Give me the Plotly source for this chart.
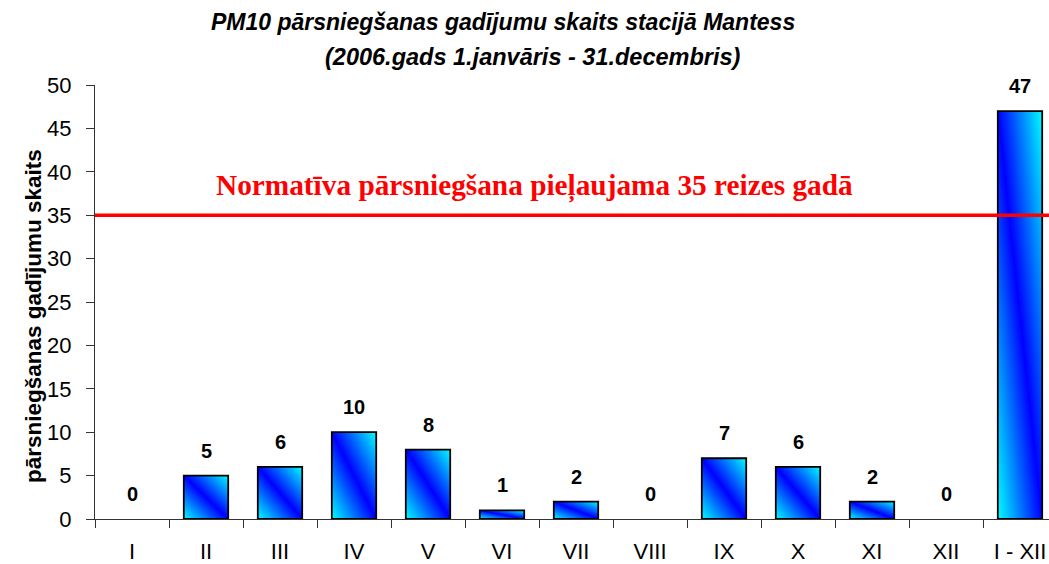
import base64
import plotly.graph_objects as go

categories = ["I", "II", "III", "IV", "V", "VI", "VII", "VIII", "IX", "X", "XI", "XII", "I - XII"]
values = [0, 5, 6, 10, 8, 1, 2, 0, 7, 6, 2, 0, 47]
limit_value = 35
limit_text = "Normatīva pārsniegšana pieļaujama 35 reizes gadā"
title_line1 = "PM10 pārsniegšanas gadījumu skaits stacijā Mantess"
title_line2 = "(2006.gads 1.janvāris - 31.decembris)"
y_title = "pārsniegšanas gadījumu skaits"

BAR_W = 0.6
L, T, B, W, H = 95, 85, 45, 1049, 564
PW, PH = W - L, H - T - B

svg = (
    '<svg xmlns="http://www.w3.org/2000/svg" width="100" height="100" viewBox="0 0 100 100" preserveAspectRatio="none">'
    '<defs><linearGradient id="g" x1="0" y1="1" x2="1" y2="0">'
    '<stop offset="0" stop-color="#00FFFF"/><stop offset="0.5" stop-color="#0000FF"/>'
    '<stop offset="1" stop-color="#00FFFF"/></linearGradient></defs>'
    '<rect x="0" y="0" width="100" height="100" fill="url(#g)"/></svg>'
)
src = "data:image/svg+xml;base64," + base64.b64encode(svg.encode()).decode()

fig = go.Figure()
fig.add_trace(go.Bar(
    x=categories, y=values, width=BAR_W,
    marker=dict(color="rgba(0,0,0,0)",
                line=dict(color="black", width=[1.8 if v > 0 else 0 for v in values])),
    hoverinfo="x+y",
))

images = []
for c, v in zip(categories, values):
    if v > 0:
        images.append(dict(source=src, xref="x", yref="y", x=c, y=v, sizex=BAR_W, sizey=v,
                           xanchor="center", yanchor="top", sizing="stretch", layer="below"))

annotations = []
for c, v in zip(categories, values):
    annotations.append(dict(x=c, y=v, xref="x", yref="y", text=f"<b>{v}</b>", showarrow=False,
                            yshift=25, font=dict(family="Liberation Sans, Arial", size=20, color="black")))
annotations.append(dict(x=(534 - L) / PW, y=limit_value, xref="paper", yref="y", text=f"<b>{limit_text}</b>",
                        showarrow=False, yshift=29, xanchor="center", yanchor="middle",
                        font=dict(family="Liberation Serif, Times New Roman", size=29.3, color="#FF0000")))
annotations.append(dict(x=(503 - L) / PW, y=1 + (T - 22) / PH, xref="paper", yref="paper",
                        text=f"<b><i>{title_line1}</i></b>", showarrow=False,
                        xanchor="center", yanchor="middle",
                        font=dict(family="Liberation Sans, Arial", size=23, color="black")))
annotations.append(dict(x=(533 - L) / PW, y=1 + (T - 57) / PH, xref="paper", yref="paper",
                        text=f"<b><i>{title_line2}</i></b>", showarrow=False,
                        xanchor="center", yanchor="middle",
                        font=dict(family="Liberation Sans, Arial", size=23.5, color="black")))
annotations.append(dict(x=(33 - L) / PW, y=(H - B - 316) / PH, xref="paper", yref="paper",
                        text=f"<b>{y_title}</b>", showarrow=False, textangle=-90,
                        xanchor="center", yanchor="middle",
                        font=dict(family="Liberation Sans, Arial", size=22.5, color="black")))

fig.update_layout(
    width=W, height=H,
    margin=dict(l=L, r=0, t=T, b=B, autoexpand=False),
    paper_bgcolor="white", plot_bgcolor="white",
    showlegend=False,
    images=images,
    annotations=annotations,
    shapes=[dict(type="line", xref="paper", yref="y", x0=0, x1=1, y0=limit_value, y1=limit_value,
                 line=dict(color="#FF0000", width=3.5))],
    font=dict(family="Liberation Sans, Arial", color="black"),
)

fig.update_xaxes(
    type="category", range=[-0.5, 12.5 - 8 / 74], automargin=False,
    showline=True, linecolor="#333333", linewidth=1,
    ticks="outside", ticklen=8, tickcolor="#333333", tickson="boundaries",
    tickfont=dict(size=22, family="Liberation Sans, Arial"), ticklabelstandoff=13,
    showgrid=False, zeroline=False,
)
fig.update_yaxes(
    range=[0, 50], dtick=5, automargin=False,
    showline=True, linecolor="#333333", linewidth=1,
    ticks="outside", ticklen=8, tickcolor="#333333",
    tickfont=dict(size=22, family="Liberation Sans, Arial"), ticklabelstandoff=10,
    showgrid=False, zeroline=False,
)

fig.write_html("out.html", config={"displayModeBar": False},
               post_script="document.body.style.margin='0';document.body.style.padding='0';")
